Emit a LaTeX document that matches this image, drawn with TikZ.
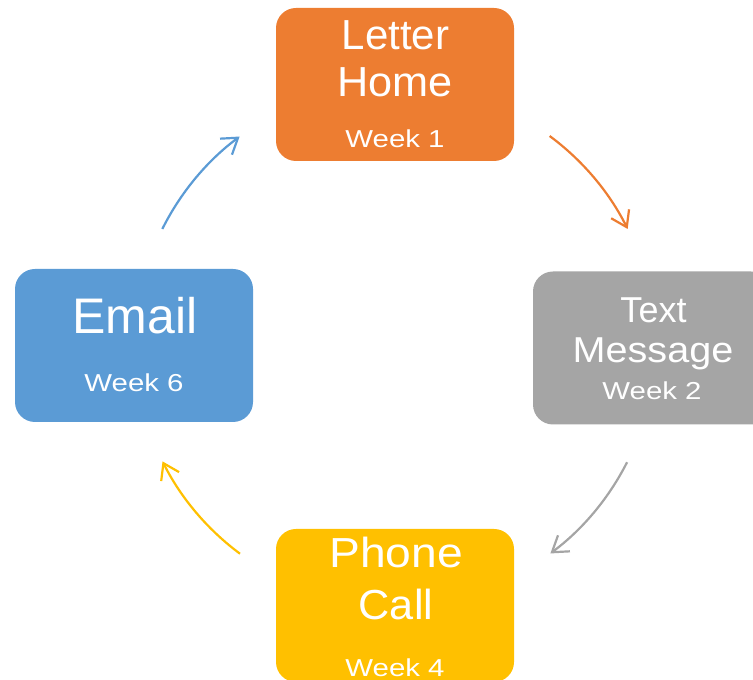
\documentclass[tikz,border=0pt]{standalone}
\usepackage{fontspec}
\setmainfont{Liberation Sans}
\usetikzlibrary{arrows.meta,calc}
\definecolor{cOrange}{HTML}{ED7D31}
\definecolor{cGray}{HTML}{A5A5A5}
\definecolor{cYellow}{HTML}{FFC000}
\definecolor{cBlue}{HTML}{5B9BD5}
\newcommand{\wide}[2]{\scalebox{#1}[1]{#2}}
\tikzset{
  box/.style={rounded corners=20pt, minimum width=238pt, minimum height=153pt, inner sep=0pt, draw=none},
  big/.style={text=white, anchor=base, inner sep=0pt, font=\fontsize{42}{42}\selectfont},
  mid/.style={text=white, anchor=base, inner sep=0pt, font=\fontsize{36}{36}\selectfont},
  huge/.style={text=white, anchor=base, inner sep=0pt, font=\fontsize{50}{50}\selectfont},
  wk/.style={text=white, anchor=base, inner sep=0pt, font=\fontsize{24.5}{24.5}\selectfont},
  arr/.style={line width=2.2pt, -{Straight Barb[length=15pt,width=20pt,line width=2.2pt]}}
}
\begin{document}
\begin{tikzpicture}[x=1pt,y=1pt]
\useasboundingbox (0,0) rectangle (753,680);
\clip (0,0) rectangle (753,680);
% boxes
\node[box, fill=cOrange] (letter) at (395,595.5) {};
\node[box, fill=cGray] (text) at (652,332) {};
\node[box, fill=cYellow] (phone) at (395,74.5) {};
\node[box, fill=cBlue] (email) at (134,334.5) {};
% texts
\node[big] (t1a) at (395.5,630) {Letter};
\node[big] (t1b) at (395,583) {\wide{1.03}{Home}};
\node[wk] (t1c) at (395,532) {\wide{1.2}{Week 1}};
\node[mid] (t2a) at (653.5,357) {Text};
\node[mid] (t2b) at (653,317) {\wide{1.1}{Message}};
\node[wk] (t2c) at (652,280) {\wide{1.2}{Week 2}};
\node[big] (t4a) at (396,112) {\wide{1.1}{Phone}};
\node[big] (t4b) at (396,60) {\wide{1.03}{Call}};
\node[wk] (t4c) at (395,3.5) {\wide{1.2}{Week 4}};
\node[huge] (t6a) at (135,346) {Email};
\node[wk] (t6c) at (134,288) {\wide{1.2}{Week 6}};
% arrows on circle
\coordinate (c) at (395,335);
\coordinate (a1) at ($(c)+(53.5:260)$);
\coordinate (a2) at ($(c)+(-26.8:260)$);
\coordinate (a3) at ($(c)+(-126.6:260)$);
\coordinate (a4) at ($(c)+(153.5:260)$);
\draw[arr, cOrange] (a1) arc[start angle=53.5, end angle=26.5, radius=260pt];
\draw[arr, cGray] (a2) arc[start angle=-26.8, end angle=-53.3, radius=260pt];
\draw[arr, cYellow] (a3) arc[start angle=-126.6, end angle=-153.4, radius=260pt];
\draw[arr, cBlue] (a4) arc[start angle=153.5, end angle=126.7, radius=260pt];
\end{tikzpicture}
\end{document}
